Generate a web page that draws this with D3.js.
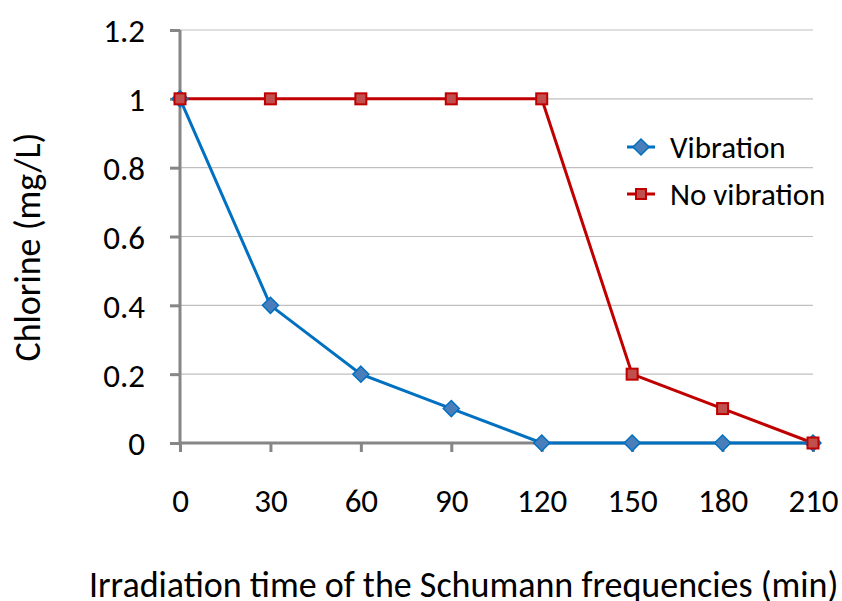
<!DOCTYPE html>
<html><head><meta charset="utf-8">
<script src="https://cdn.jsdelivr.net/npm/d3@7"></script>
<style>body{margin:0;background:#fff}svg{display:block}text{font-family:Carlito,Calibri,Lato,"Open Sans",sans-serif;fill:#000}</style>
</head><body><svg id="c" width="842" height="601"></svg>
<script>
const categories = [0, 30, 60, 90, 120, 150, 180, 210];
const vibration = [1, 0.4, 0.2, 0.1, 0, 0, 0, 0];
const noVibration = [1, 1, 1, 1, 1, 0.2, 0.1, 0];
const yTicks = [0, 0.2, 0.4, 0.6, 0.8, 1, 1.2];
const yTickLabels = ["0", "0.2", "0.4", "0.6", "0.8", "1", "1.2"];
const seriesNames = ["Vibration", "No vibration"];

const svg = d3.select("#c");
const x = d3.scaleLinear().domain([0, 210]).range([180, 813]);
const y = d3.scaleLinear().domain([0, 1.2]).range([443, 30]);
const fs = 33;

// gridlines
svg.append("g").selectAll("line").data(yTicks.filter(d => d > 0)).join("line")
  .attr("x1", x(0)).attr("x2", x(210)).attr("y1", d => y(d)).attr("y2", d => y(d))
  .attr("stroke", "#bfbfbf").attr("stroke-width", 1.2);

// y axis
const yAxis = svg.append("g").attr("transform", `translate(${x(0)},0)`)
  .call(d3.axisLeft(y).tickValues(yTicks).tickFormat((d, i) => yTickLabels[i]).tickSize(10).tickPadding(25));
yAxis.select(".domain").attr("stroke", "#868686").attr("stroke-width", 3).attr("d", `M0,${y(1.2)}V${y(0)}`);
yAxis.selectAll(".tick line").attr("stroke", "#868686").attr("stroke-width", 3);
yAxis.selectAll(".tick text").attr("font-size", fs).attr("font-family", null).attr("dy", "0.36em");

// x axis
const xAxis = svg.append("g").attr("transform", `translate(0,${y(0)})`)
  .call(d3.axisBottom(x).tickValues(categories).tickSize(9).tickPadding(37));
xAxis.select(".domain").attr("stroke", "#868686").attr("stroke-width", 3).attr("d", `M${x(0)},0H${x(210)}`);
xAxis.selectAll(".tick line").attr("stroke", "#868686").attr("stroke-width", 3);
xAxis.selectAll(".tick text").attr("font-size", fs).attr("font-family", null);

// lines
const line = d3.line().x((d, i) => x(categories[i])).y(d => y(d));
svg.append("path").datum(vibration).attr("d", line).attr("fill", "none").attr("stroke", "#0070c0").attr("stroke-width", 3);
svg.append("path").datum(noVibration).attr("d", line).attr("fill", "none").attr("stroke", "#c00000").attr("stroke-width", 3);

const diamond = (cx, cy, r) => `M${cx},${cy - r}L${cx + r},${cy}L${cx},${cy + r}L${cx - r},${cy}Z`;
svg.append("g").selectAll("path").data(vibration).join("path")
  .attr("d", (d, i) => diamond(x(categories[i]), y(d), 8))
  .attr("fill", "#4a7ebb").attr("stroke", "#0070c0").attr("stroke-width", 1.5);
svg.append("g").selectAll("rect").data(noVibration).join("rect")
  .attr("x", (d, i) => x(categories[i]) - 5.5).attr("y", d => y(d) - 5.5)
  .attr("width", 11).attr("height", 11)
  .attr("fill", "#c0504d").attr("stroke", "#c00000").attr("stroke-width", 2);

// legend
const lg = svg.append("g");
lg.append("line").attr("x1", 627).attr("x2", 655).attr("y1", 147).attr("y2", 147).attr("stroke", "#0070c0").attr("stroke-width", 3);
lg.append("path").attr("d", diamond(641, 147, 8)).attr("fill", "#4a7ebb").attr("stroke", "#0070c0").attr("stroke-width", 1.5);
lg.append("text").attr("x", 670).attr("y", 147).attr("dy", "0.35em").attr("font-size", 31).text(seriesNames[0]);
lg.append("line").attr("x1", 627).attr("x2", 655).attr("y1", 194).attr("y2", 194).attr("stroke", "#c00000").attr("stroke-width", 3);
lg.append("rect").attr("x", 636).attr("y", 189).attr("width", 10).attr("height", 10).attr("fill", "#c0504d").attr("stroke", "#c00000").attr("stroke-width", 2);
lg.append("text").attr("x", 670).attr("y", 194).attr("dy", "0.35em").attr("font-size", 31).text(seriesNames[1]);

// axis titles
svg.append("text").attr("x", 89).attr("y", 597).attr("font-size", 36).text("Irradiation time of the Schumann frequencies (min)");
svg.append("text").attr("transform", "translate(40,247) rotate(-90)").attr("text-anchor", "middle").attr("font-size", 36).text("Chlorine (mg/L)");
</script></body></html>
